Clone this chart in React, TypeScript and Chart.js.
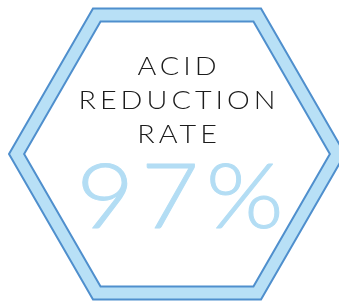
import React, { useEffect, useRef } from "react";
import { Chart, registerables } from "chart.js";

Chart.register(...registerables);

// Six sides of the hexagon badge (radar axes)
const axes = ["1", "2", "3", "4", "5", "6"];
// Outer band of the badge and inner white panel (radial values, max 100)
const outerValues = [100, 100, 100, 100, 100, 100];
const innerValues = [91, 91, 91, 91, 91, 91];
// Text
const titleLines = ["ACID", "REDUCTION", "RATE"];
const rateText = "97%";

const EDGE = "#4f8fcd";
const BAND = "#b8e0f6";
const RATE_COLOR = "#b3ddf4";

function drawStretched(
  ctx: CanvasRenderingContext2D,
  text: string,
  x: number,
  y: number,
  sx: number,
  spacing: number,
  strokeWidth = 0
) {
  ctx.save();
  ctx.translate(x, y);
  ctx.scale(sx, 1);
  (ctx as any).letterSpacing = spacing + "px";
  ctx.fillText(text, spacing / 2, 0);
  if (strokeWidth > 0) {
    ctx.lineWidth = strokeWidth;
    ctx.strokeStyle = ctx.fillStyle as string;
    ctx.lineJoin = "round";
    ctx.strokeText(text, spacing / 2, 0);
  }
  ctx.restore();
}

const textPlugin = {
  id: "badgeText",
  afterDatasetsDraw(chart: any) {
    const r = chart.scales.r;
    const ctx = chart.ctx as CanvasRenderingContext2D;
    const cx = r.xCenter;
    const cy = r.yCenter;
    ctx.save();
    ctx.textAlign = "center";
    ctx.textBaseline = "alphabetic";
    ctx.fillStyle = "#1c1c1c";
    ctx.font = "300 25px Lato, 'Open Sans', sans-serif";
    titleLines.forEach((t, i) => {
      drawStretched(ctx, t, cx, cy - 79 + i * 34, 1.15, 3.5);
    });
    ctx.fillStyle = RATE_COLOR;
    ctx.font = "300 91px Lato, 'Open Sans', sans-serif";
    drawStretched(ctx, rateText, cx + 3, cy + 74, 1.1, 6, 1);
    ctx.restore();
  },
};

export default function App() {
  const ref = useRef<HTMLCanvasElement | null>(null);
  useEffect(() => {
    if (!ref.current) return;
    const chart = new Chart(ref.current, {
      type: "radar",
      data: {
        labels: axes,
        datasets: [
          {
            data: innerValues,
            backgroundColor: "#ffffff",
            borderColor: EDGE,
            borderWidth: 2,
            fill: true,
            pointRadius: 0,
            pointHoverRadius: 0,
            tension: 0,
            clip: false,
          } as any,
          {
            data: outerValues,
            backgroundColor: BAND,
            borderColor: EDGE,
            borderWidth: 2,
            fill: true,
            pointRadius: 0,
            pointHoverRadius: 0,
            tension: 0,
            clip: false,
          } as any,
        ],
      },
      options: {
        responsive: false,
        animation: false,
        events: [],
        layout: { padding: 0 },
        plugins: {
          legend: { display: false },
          tooltip: { enabled: false },
          title: { display: false },
        },
        scales: {
          r: {
            min: 0,
            max: 100,
            startAngle: 30,
            grid: { display: false },
            angleLines: { display: false },
            pointLabels: { display: false },
            ticks: { display: false },
          },
        },
      },
      plugins: [textPlugin],
    });
    return () => chart.destroy();
  }, []);
  return (
    <div
      style={{
        position: "fixed",
        left: 0,
        top: 0,
        width: 339,
        height: 301,
        overflow: "hidden",
        background: "#ffffff",
      }}
    >
      <canvas
        ref={ref}
        width={354}
        height={336}
        style={{ position: "absolute", left: 0, top: -14, width: 354, height: 336 }}
      />
    </div>
  );
}
